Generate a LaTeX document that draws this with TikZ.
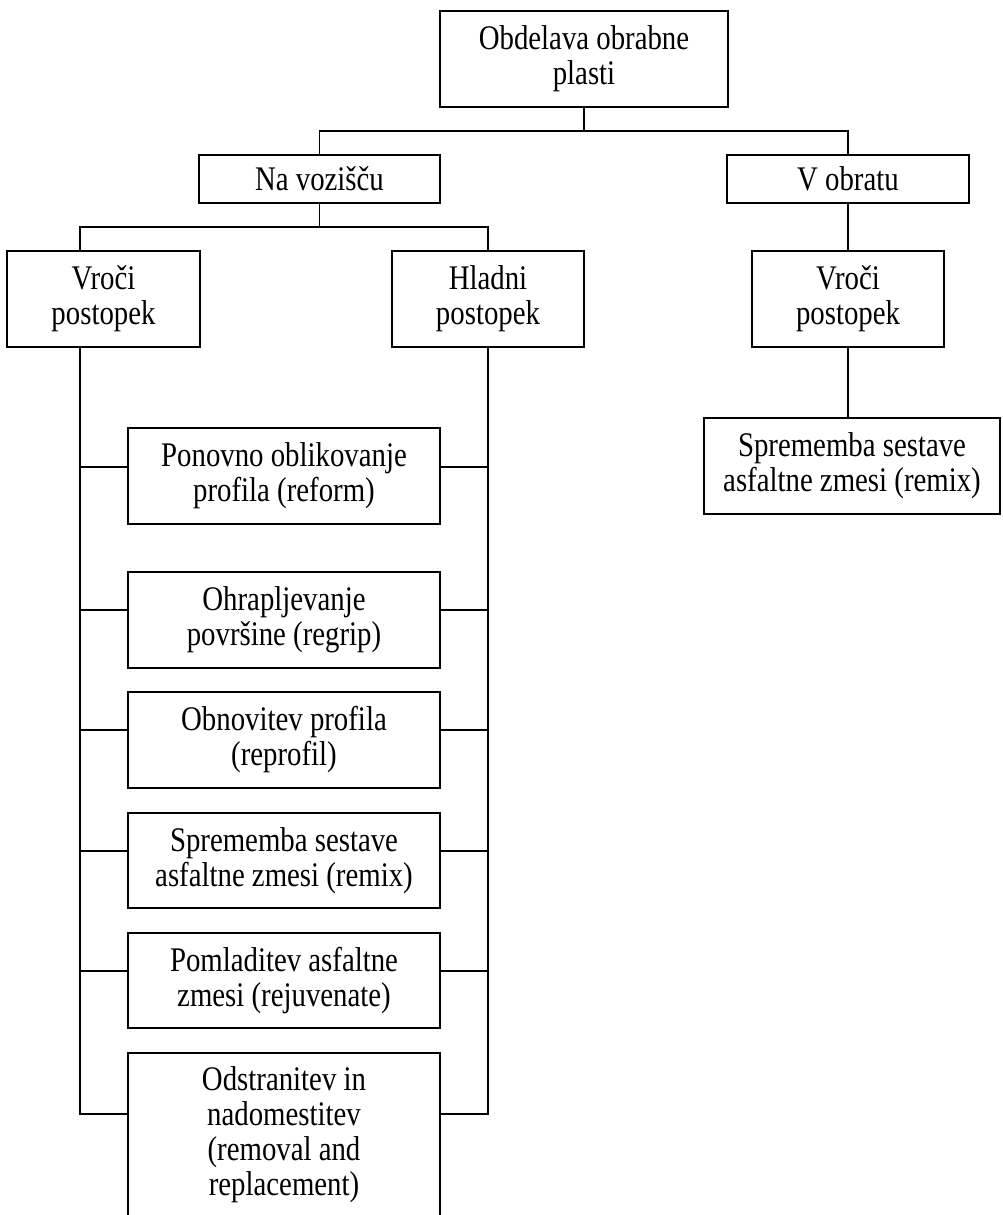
\documentclass[tikz,border=0pt]{standalone}
\usepackage{fontspec}
\setmainfont{Liberation Serif}[FakeStretch=0.835]
\begin{document}
\begin{tikzpicture}[x=1pt,y=-1pt,
  box/.style={draw, line width=1.9pt, rectangle, inner sep=0pt, align=center,
              font=\fontsize{34.5}{35}\selectfont},
  wide/.style={box, minimum width=312pt, minimum height=96pt},
  link/.style={line width=1.9pt}]
\useasboundingbox (0,0) rectangle (1003,1215);

% top level
\node[box, minimum width=288pt, minimum height=96pt] (top) at (584,59) {Obdelava obrabne\\plasti};

% second level
\node[box, minimum width=241pt, minimum height=48pt] (road) at (319.5,179) {Na vozišču};
\node[box, minimum width=242pt, minimum height=48pt] (plant) at (848,179) {V obratu};

% third level
\node[box, minimum width=193pt, minimum height=96pt] (hotL) at (103.5,299) {Vroči\\postopek};
\node[box, minimum width=192pt, minimum height=96pt] (cold) at (488,299) {Hladni\\postopek};
\node[box, minimum width=192pt, minimum height=96pt] (hotR) at (848,299) {Vroči\\postopek};

% plant branch
\node[box, minimum width=296pt, minimum height=96pt] (remixR) at (852,466) {Sprememba sestave\\asfaltne zmesi (remix)};

% road methods
\node[wide] (m1) at (284,476) {Ponovno oblikovanje\\profila (reform)};
\node[wide] (m2) at (284,620) {Ohrapljevanje\\površine (regrip)};
\node[wide] (m3) at (284,740) {Obnovitev profila\\(reprofil)};
\node[wide, minimum height=95pt] (m4) at (284,860.5) {Sprememba sestave\\asfaltne zmesi (remix)};
\node[wide, minimum height=95pt] (m5) at (284,980.5) {Pomladitev asfaltne\\zmesi (rejuvenate)};
\node[wide, minimum height=164pt] (m6) at (284,1135) {Odstranitev in\\nadomestitev\\(removal and\\replacement)};

% bus lines and spines
\coordinate (busA) at (0,131);
\coordinate (busB) at (0,227);
\coordinate (spL) at (80,0);
\coordinate (spR) at (488,0);
\coordinate (t1) at (0,467);
\coordinate (t2) at (0,610);
\coordinate (t3) at (0,730);
\coordinate (t4) at (0,851);
\coordinate (t5) at (0,971);
\coordinate (t6) at (0,1114);

\draw[link] (top.south) -- (top.south |- busA);
\draw[link] (road.north) -- (road.north |- busA) -- (plant.north |- busA) -- (plant.north);

\draw[link] (road.south) -- (road.south |- busB);
\draw[link] (spL |- hotL.north) -- (spL |- busB) -- (cold.north |- busB) -- (cold.north);

\draw[link] (plant.south) -- (hotR.north);
\draw[link] (hotR.south) -- (hotR.south |- remixR.north);

% left spine with ticks
\draw[link] (spL |- hotL.south) -- (spL |- t6) -- (m6.west |- t6);
\foreach \b/\t in {m1/t1, m2/t2, m3/t3, m4/t4, m5/t5}
  \draw[link] (spL |- \t) -- (\b.west |- \t);

% right spine with ticks
\draw[link] (cold.south) -- (spR |- t6) -- (m6.east |- t6);
\foreach \b/\t in {m1/t1, m2/t2, m3/t3, m4/t4, m5/t5}
  \draw[link] (spR |- \t) -- (\b.east |- \t);
\end{tikzpicture}
\end{document}
